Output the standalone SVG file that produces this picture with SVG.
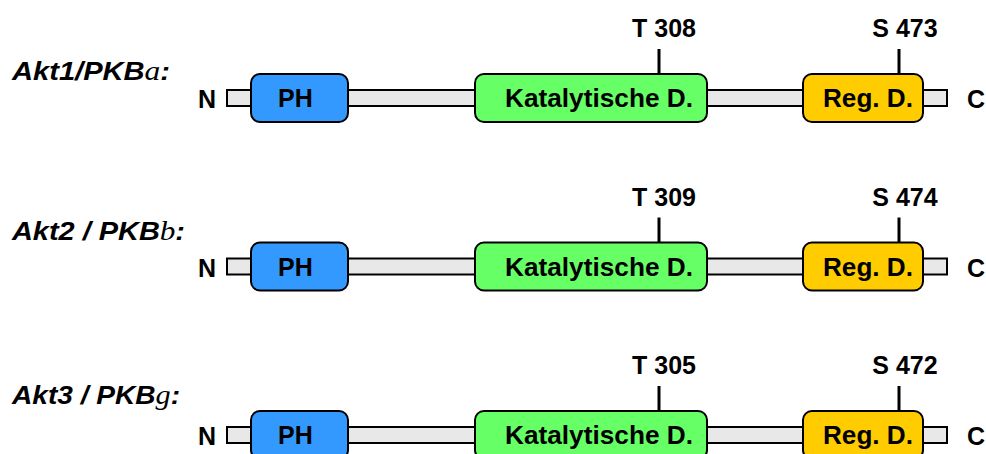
<svg xmlns="http://www.w3.org/2000/svg" width="986" height="454" viewBox="0 0 986 454">
  <style>
    .bar { fill: #E8E8E8; stroke: #000; stroke-width: 2; }
    .ph { fill: #3399FF; stroke: #000; stroke-width: 2; }
    .kin { fill: #66FF66; stroke: #000; stroke-width: 2; }
    .reg { fill: #FFCC00; stroke: #000; stroke-width: 2; }
    .lbl { font-family: "Liberation Sans", Arial, sans-serif; font-weight: bold; font-size: 25px; fill: #000; }
    .end { font-family: "Liberation Sans", Arial, sans-serif; font-weight: bold; font-size: 25px; fill: #000; }
    .title { font-family: "Liberation Sans", Arial, sans-serif; font-weight: bold; font-style: italic; font-size: 25px; fill: #000; }
    .greek { font-family: "Liberation Serif", "Times New Roman", serif; font-weight: normal; font-size: 27px; }
    .tick { stroke: #000; stroke-width: 3; fill: none; }
  </style>
  <defs>
    <!-- one protein: backbone bar with three domains and end labels -->
    <g id="protein">
      <rect class="bar" x="227" y="90" width="720" height="16"/>
      <g>
        <rect class="ph" x="251" y="74" width="97" height="48" rx="9"/>
        <text class="lbl" x="278" y="107">PH</text>
      </g>
      <g>
        <rect class="kin" x="475" y="74" width="232" height="48" rx="9"/>
        <text class="lbl" x="505" y="107" textLength="188" lengthAdjust="spacingAndGlyphs">Katalytische D.</text>
      </g>
      <g>
        <rect class="reg" x="803" y="74" width="120" height="48" rx="9"/>
        <text class="lbl" x="823" y="107" textLength="90" lengthAdjust="spacingAndGlyphs">Reg. D.</text>
      </g>
      <text class="end" x="198" y="108">N</text>
      <text class="end" x="967" y="108">C</text>
    </g>
  </defs>

  <!-- Akt1 -->
  <g id="akt1">
    <text class="title" x="12" y="80" textLength="158" lengthAdjust="spacingAndGlyphs">Akt1/PKB<tspan class="greek">a</tspan>:</text>
    <use href="#protein"/>
    <text class="lbl" x="664" y="37" text-anchor="middle">T 308</text>
    <text class="lbl" x="905" y="37" text-anchor="middle">S 473</text>
  </g>

  <!-- Akt2 -->
  <g id="akt2">
    <text class="title" x="12" y="240" textLength="173" lengthAdjust="spacingAndGlyphs">Akt2 / PKB<tspan class="greek">b</tspan>:</text>
    <use href="#protein" y="168.5"/>
    <text class="lbl" x="664" y="205.5" text-anchor="middle">T 309</text>
    <text class="lbl" x="905" y="205.5" text-anchor="middle">S 474</text>
  </g>

  <!-- Akt3 -->
  <g id="akt3">
    <text class="title" x="12" y="404" textLength="168" lengthAdjust="spacingAndGlyphs">Akt3 / PKB<tspan class="greek" font-style="italic">g</tspan>:</text>
    <use href="#protein" y="337"/>
    <text class="lbl" x="664" y="374" text-anchor="middle">T 305</text>
    <text class="lbl" x="905" y="374" text-anchor="middle">S 472</text>
  </g>

  <!-- phosphorylation-site ticks -->
  <g id="connectors">
    <line class="tick" x1="659" y1="49" x2="659" y2="74"/>
    <line class="tick" x1="899" y1="49" x2="899" y2="74"/>
    <line class="tick" x1="659" y1="217.5" x2="659" y2="242.5"/>
    <line class="tick" x1="899" y1="217.5" x2="899" y2="242.5"/>
    <line class="tick" x1="659" y1="386" x2="659" y2="411"/>
    <line class="tick" x1="899" y1="386" x2="899" y2="411"/>
  </g>
</svg>
